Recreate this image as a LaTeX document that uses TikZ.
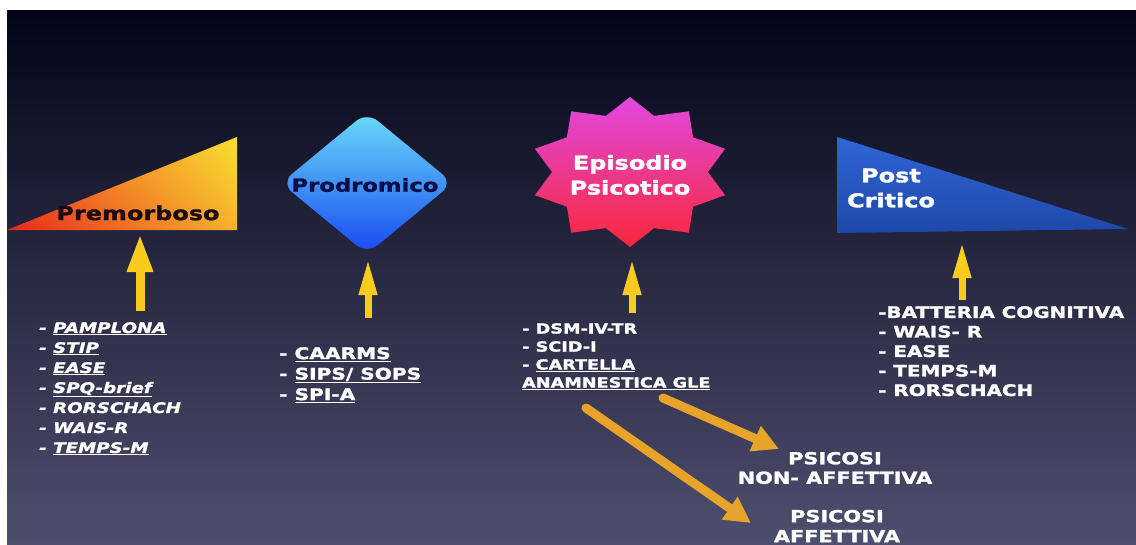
\documentclass[tikz,border=0pt]{standalone}
\usepackage{fontspec}
\setmainfont{DejaVu Sans}
\newfontfamily\wideface[FakeStretch=1.26, BoldFeatures={FakeBold=1.6}, BoldItalicFeatures={FakeBold=1.6}]{DejaVu Sans}
\usetikzlibrary{arrows.meta, positioning, calc, shadings}
\definecolor{bgtop}{HTML}{040418}
\definecolor{bgbot}{HTML}{4E4E6E}
\definecolor{cred}{HTML}{E8261C}
\definecolor{corangel}{HTML}{F06A22}
\definecolor{camber}{HTML}{F6B22E}
\definecolor{cyellow}{HTML}{F9E030}
\definecolor{ccyan}{HTML}{6ADCF8}
\definecolor{cblue}{HTML}{1848F0}
\definecolor{cmagenta}{HTML}{E048E0}
\definecolor{cpink}{HTML}{F8283A}
\definecolor{cnavy}{HTML}{2F66D6}
\definecolor{cdeep}{HTML}{1E48A8}
\definecolor{carrow}{HTML}{F8CC1C}
\definecolor{corange}{HTML}{E8A32A}
\definecolor{cdark}{HTML}{1A0A0A}
\definecolor{cink}{HTML}{0A0F45}

\tikzset{
  headtext/.style={font=\wideface\bfseries\fontsize{19}{25}\selectfont, align=center},
  listtext/.style={text=white, align=left, anchor=north west, inner sep=0pt},
  uparrow/.style={draw=carrow, line width=7pt, -{Triangle[width=17pt,length=36pt]}},
  diagarrow/.style={draw=corange, line width=9pt, line cap=round, -{Triangle[width=26pt,length=26pt]}},
}

\begin{document}
\begin{tikzpicture}[x=1pt, y=-1pt]
  \useasboundingbox (0,0) rectangle (1136,544);
  \fill[white] (0,0) rectangle (1136,544);
  \shade[top color=bgtop, bottom color=bgbot] (7,10) rectangle (1136,544);

  % Premorboso
  \shade[lower left=cred, upper left=corangel, lower right=camber, upper right=cyellow]
    (7,230) -- (237,137) -- (237,230) -- cycle;
  \node[headtext, text=cdark] (pre) at (138,213) {Premorboso};

  % Prodromico
  \shade[top color=ccyan, bottom color=cblue, rounded corners=14pt]
    (367,112) -- (453,183) -- (367,254) -- (281,183) -- cycle;
  \node[headtext, text=cink, font=\wideface\bfseries\fontsize{18}{22}\selectfont] (pro) at (365,185) {Prodromico};

  % Episodio psicotico
  \coordinate (star) at (630,172);
  \shade[top color=cmagenta, bottom color=cpink]
    ($(star)+(90:100 and 75)$)
    \foreach \a in {0,36,...,324}{
      -- ($(star)+(90+\a+18:78 and 59)$) -- ($(star)+(90+\a+36:100 and 75)$)
    } -- cycle;
  \node[headtext, text=white] (epi) at (630,175) {Episodio\\Psicotico};

  % Post critico
  \shade[top color=cnavy, bottom color=cdeep] (837,137) -- (837,233) -- (1128,229) -- cycle;
  \node[headtext, text=white] (post) at (891,188) {Post\\Critico};

  % liste
  \node[listtext, font=\wideface\bfseries\itshape\fontsize{14.5}{20}\selectfont] (prelist) at (39,322)
    {- \underline{PAMPLONA}\\- \underline{STIP}\\- \underline{EASE}\\- \underline{SPQ-brief}\\- RORSCHACH\\- WAIS-R\\- \underline{TEMPS-M}};
  \node[listtext, font=\wideface\bfseries\fontsize{16}{20.5}\selectfont] (prolist) at (279,347)
    {- \underline{CAARMS}\\- \underline{SIPS/ SOPS}\\- \underline{SPI-A}};
  \node[listtext, font=\wideface\bfseries\fontsize{14}{18}\selectfont] (epilist) at (522,323)
    {- DSM-IV-TR\\- SCID-I\\- \underline{CARTELLA}\\\underline{ANAMNESTICA GLE}};
  \node[listtext, font=\wideface\bfseries\fontsize{15.8}{19.5}\selectfont] (postlist) at (878,306)
    {-BATTERIA COGNITIVA\\- WAIS- R\\- EASE\\- TEMPS-M\\- RORSCHACH};

  \node[headtext, text=white, font=\wideface\bfseries\fontsize{16.5}{19.5}\selectfont] (nonaff) at (835,468) {PSICOSI\\NON- AFFETTIVA};
  \node[headtext, text=white, font=\wideface\bfseries\fontsize{16.5}{20}\selectfont] (aff) at (837,526) {PSICOSI\\AFFETTIVA};

  % frecce
  \coordinate (preFoot) at (140,311);   \coordinate (preTip) at (140,234);
  \coordinate (proFoot) at (368,318);   \coordinate (proTip) at (368,259);
  \coordinate (epiFoot) at (632,313);   \coordinate (epiTip) at (632,259);
  \coordinate (postFoot) at (962,300);  \coordinate (postTip) at (962,242);
  \draw[uparrow, line width=9pt, -{Triangle[width=24pt,length=38pt]}] (preFoot) -- (preTip);
  \draw[uparrow] (proFoot) -- (proTip);
  \draw[uparrow] (epiFoot) -- (epiTip);
  \draw[uparrow] (postFoot) -- (postTip);

  \coordinate (nonStart) at (663,398);  \coordinate (nonTip) at (779,449);
  \coordinate (affStart) at (586,408);  \coordinate (affTip) at (751,523);
  \draw[diagarrow] (nonStart) -- (nonTip);
  \draw[diagarrow] (affStart) -- (affTip);
\end{tikzpicture}
\end{document}
